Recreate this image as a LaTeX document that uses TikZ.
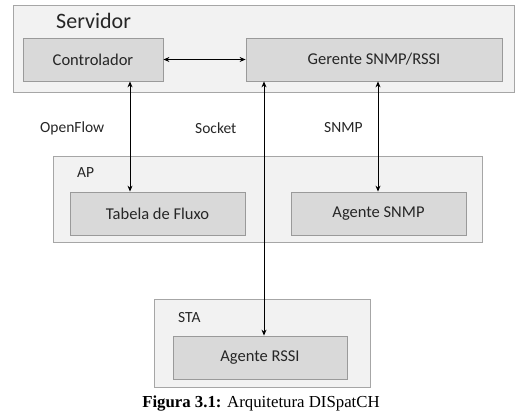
\documentclass[tikz,border=0pt]{standalone}
\usepackage{fontspec}
\setmainfont{Carlito}
\newfontfamily\capfont{Liberation Serif}
\usetikzlibrary{arrows.meta}
\definecolor{outerfill}{HTML}{F2F2F2}
\definecolor{outerdraw}{HTML}{A6A6A6}
\definecolor{innerfill}{HTML}{D9D9D9}
\definecolor{innerdraw}{HTML}{9A9A9A}
\definecolor{txt}{HTML}{262626}
\tikzset{
  outerbox/.style={draw=outerdraw, fill=outerfill, line width=0.8pt},
  innerbox/.style={draw=innerdraw, fill=innerfill, line width=0.8pt, text=txt, font=\fontsize{16.5}{18}\selectfont},
  lbl/.style={text=txt, font=\fontsize{15.5}{17}\selectfont, anchor=west, inner sep=0pt},
  conn/.style={line width=0.9pt, {Stealth[length=6pt,width=5pt]}-{Stealth[length=6pt,width=5pt]}}
}
\begin{document}
\begin{tikzpicture}[x=1pt,y=-1pt]
\useasboundingbox (0,0) rectangle (523,417);
% outer boxes
\draw[outerbox] (13,5) rectangle (514,92);
\draw[outerbox] (53,156) rectangle (482,242);
\draw[outerbox] (154,299) rectangle (370,387);
% outer labels
\node[lbl, font=\fontsize{22}{24}\selectfont] (srv) at (56,21) {Servidor};
\node[lbl] (ap) at (77,173) {AP};
\node[lbl] (sta) at (178,318) {STA};
% inner boxes
\node[innerbox, minimum width=140pt, minimum height=43pt] (ctrl) at (93,59.5) {Controlador};
\node[innerbox, minimum width=256pt, minimum height=43pt] (ger) at (374,59.5) {Gerente SNMP/RSSI};
\node[innerbox, minimum width=175pt, minimum height=43pt] (tab) at (157.5,213.5) {Tabela de Fluxo};
\node[innerbox, minimum width=175pt, minimum height=43pt] (snmp) at (378.5,213.5) {Agente SNMP};
\node[innerbox, minimum width=174pt, minimum height=43pt] (rssi) at (260,357.5) {Agente RSSI};
% connector labels
\node[lbl] (of) at (40,128) {OpenFlow};
\node[lbl] (sock) at (195,128) {Socket};
\node[lbl] (snmpl) at (324,128) {SNMP};
% connectors
\draw[conn] (ctrl.east) -- (ger.west);
\draw[conn] (ctrl.south -| 130,0) -- (tab.north -| 130,0);
\draw[conn] (ger.south -| 264,0) -- (rssi.north -| 264,0);
\draw[conn] (ger.south -| 378,0) -- (snmp.north -| 378,0);
% caption
\node[font=\capfont\fontsize{16.8}{18}\selectfont, inner sep=0pt] (cap) at (261,404) {\textbf{Figura 3.1:} Arquitetura DISpatCH};
\end{tikzpicture}
\end{document}
